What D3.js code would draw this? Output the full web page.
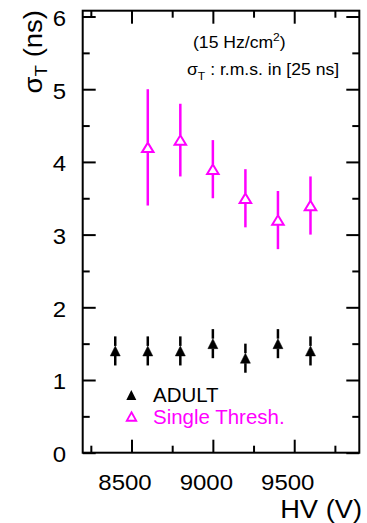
<!DOCTYPE html>
<html>
<head>
<meta charset="utf-8">
<script src="https://cdn.jsdelivr.net/npm/d3@7"></script>
<style>
  html, body { margin: 0; padding: 0; background: #fff; }
  svg { display: block; font-family: "Liberation Sans", Arial, sans-serif; }
</style>
</head>
<body>
<svg id="chart"></svg>
<script>
// HV points (V)
const hvAdult  = [8400, 8600, 8800, 9000, 9200, 9400, 9600];
const adultVal = [1.4, 1.4, 1.4, 1.5, 1.3, 1.5, 1.4];
const adultErr = [0.2, 0.2, 0.2, 0.2, 0.2, 0.2, 0.2];

const hvSingle  = [8600, 8800, 9000, 9200, 9400, 9600];
const singleVal = [4.2, 4.3, 3.9, 3.5, 3.2, 3.4];
const singleErr = [0.8, 0.5, 0.4, 0.4, 0.4, 0.4];

const xMajor = [8500, 9000, 9500];
const xMinor = [8250, 8750, 9250, 9750];
const yMajor = [0, 1, 2, 3, 4, 5, 6];
const yMinor = [0.5, 1.5, 2.5, 3.5, 4.5, 5.5];

const W = 367, H = 523;
const MAGENTA = '#ff00ff';
const svg = d3.select('#chart').attr('width', W).attr('height', H);

const L = 82.7, R = 359.3, T = 10.7, B = 452.7;
const x = d3.scaleLinear().domain([8200, 9900]).range([L, R]);
const y = d3.scaleLinear().domain([0, 6.08]).range([B, T]);

// ticks (inward on all four sides)
function ticks(axisFn, scale, vals, len, transform) {
    svg.append('g').attr('transform', transform)
        .call(axisFn(scale).tickValues(vals).tickSize(len).tickFormat(''))
        .call(g => g.select('.domain').remove())
        .call(g => g.selectAll('line').attr('stroke', '#000').attr('stroke-width', 2));
}
ticks(d3.axisBottom, x, xMajor, -13, `translate(0,${B})`);
ticks(d3.axisBottom, x, xMinor, -7,  `translate(0,${B})`);
ticks(d3.axisTop,    x, xMajor, -13, `translate(0,${T})`);
ticks(d3.axisTop,    x, xMinor, -7,  `translate(0,${T})`);
ticks(d3.axisLeft,   y, yMajor, -13, `translate(${L},0)`);
ticks(d3.axisLeft,   y, yMinor, -7,  `translate(${L},0)`);
ticks(d3.axisRight,  y, yMajor, -13, `translate(${R},0)`);
ticks(d3.axisRight,  y, yMinor, -7,  `translate(${R},0)`);

// frame
svg.append('rect')
    .attr('x', L).attr('y', T).attr('width', R - L).attr('height', B - T)
    .attr('fill', 'none').attr('stroke', '#000').attr('stroke-width', 2);

// text helper: the original glyphs are a bit wider than Arial
function label(tx, ty, size, sx, anchor, color, rot) {
    return svg.append('text')
        .attr('transform', `translate(${tx},${ty})${rot ? ` rotate(${rot})` : ''} scale(${sx},1)`)
        .attr('text-anchor', anchor || 'start')
        .attr('font-size', size).attr('fill', color || '#000');
}

// tick labels
yMajor.forEach(d => label(66, y(d) + 9.4, 22, 1.09, 'end').text(d));
xMajor.forEach(d => label(x(d) - 6.5, 490, 22, 1.09, 'middle').text(d));

// axis titles
label(362, 518, 25.5, 1.07, 'end').text('HV (V)');
const yt = label(42, 10, 25, 1.1, 'end', '#000', -90);
yt.append('tspan').text('σ');
yt.append('tspan').attr('font-size', 17).attr('dy', 5).text('T');
yt.append('tspan').attr('dy', -5).text(' (ns)');

// annotations
const a1 = label(193, 48, 16, 1.1);
a1.append('tspan').text('(15 Hz/cm');
a1.append('tspan').attr('font-size', 11).attr('dy', -7).text('2');
a1.append('tspan').attr('dy', 7).text(')');
const a2 = label(187, 75, 16, 1.1);
a2.append('tspan').text('σ');
a2.append('tspan').attr('font-size', 11).attr('dy', 5).text('T');
a2.append('tspan').attr('dy', -5).text(' : r.m.s. in [25 ns]');

// markers
const triUp = (cx, cy, w, h) =>
    `M${cx},${cy - h / 2}L${cx + w / 2},${cy + h / 2}L${cx - w / 2},${cy + h / 2}Z`;

function series(xs, vals, errs, color, w, h, filled) {
    const g = svg.append('g');
    xs.forEach((xv, i) => {
        const cx = x(xv), cy = y(vals[i]);
        const top = y(vals[i] + errs[i]), bot = y(vals[i] - errs[i]);
        g.append('line').attr('x1', cx).attr('x2', cx)
            .attr('y1', top).attr('y2', cy - h / 2)
            .attr('stroke', color).attr('stroke-width', 2.5);
        g.append('line').attr('x1', cx).attr('x2', cx)
            .attr('y1', cy + h / 2).attr('y2', bot)
            .attr('stroke', color).attr('stroke-width', 2.5);
        g.append('path').attr('d', triUp(cx, cy, w, h))
            .attr('fill', filled ? color : '#fff')
            .attr('stroke', color).attr('stroke-width', filled ? 0.5 : 2);
    });
}
series(hvAdult, adultVal, adultErr, '#000', 10, 10, true);
series(hvSingle, singleVal, singleErr, MAGENTA, 11.5, 9.5, false);

// legend
svg.append('path').attr('d', triUp(131.3, 395, 10, 10)).attr('fill', '#000');
svg.append('path').attr('d', triUp(131.5, 416.5, 9.5, 8.5))
    .attr('fill', 'none').attr('stroke', MAGENTA).attr('stroke-width', 1.8);
label(153, 402, 19.5, 1.05).text('ADULT');
label(153, 424, 19.5, 1.05, 'start', MAGENTA).text('Single Thresh.');
</script>
</body>
</html>
